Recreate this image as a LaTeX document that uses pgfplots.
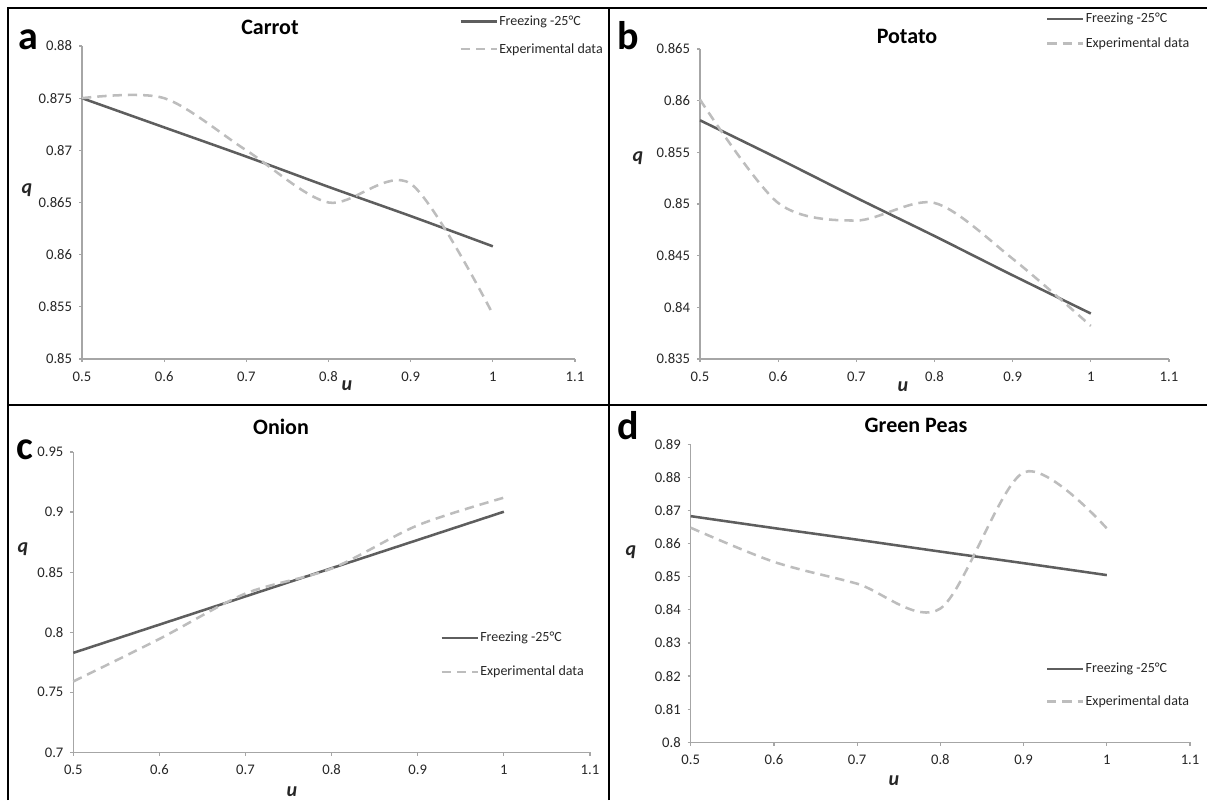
\documentclass[border=0pt]{standalone}
\usepackage{pgfplots}
\pgfplotsset{compat=1.18}
\usepackage{fontspec}
\setmainfont{Carlito}
\definecolor{solidc}{HTML}{5E5E5E}
\definecolor{dashc}{HTML}{BDBDBD}
\definecolor{axc}{HTML}{A6A6A6}
\definecolor{txtc}{HTML}{262626}
\pgfplotsset{
  panel/.style={
    scale only axis,
    axis x line=bottom, axis y line=left,
    axis line style={axc, line width=0.9pt, -},
    every tick/.style={axc, line width=0.9pt},
    tick align=outside, major tick length=2.4pt,
    xmin=0.5, xmax=1.1,
    xtick={0.5,0.6,0.7,0.8,0.9,1,1.1},
    /pgf/number format/assume math mode=true,
    /pgf/number format/precision=3,
    ticklabel style={font=\fontsize{11}{13}\selectfont, text=txtc},
    xticklabel style={yshift=-3.5pt},
    yticklabel style={xshift=-1.5pt},
    clip=false,
    legend cell align=left,
    legend style={draw=none, fill=none, inner sep=0pt,
      font=\fontsize{10.5}{12}\selectfont, text=txtc,
      nodes={inner sep=1pt},
      /tikz/every even column/.append style={column sep=1pt}},
    legend image code/.code={\draw[##1] (0pt,0pt) -- (27pt,0pt);},
  },
  sol/.style={solidc, line width=1.9pt, smooth},
  das/.style={dashc, line width=1.9pt, dash pattern=on 7pt off 4.5pt, smooth},
}
\pgfplotstableread{
u solid dashed
0.5 0.8750 0.8750
0.6 0.8722 0.8750
0.7 0.8694 0.8700
0.8 0.8665 0.8650
0.9 0.8637 0.8668
1.0 0.8608 0.8543
}\carrot
\pgfplotstableread{
u solid dashed
0.5 0.8581 0.8601
0.6 0.8544 0.8501
0.7 0.8506 0.8484
0.8 0.8469 0.8501
0.9 0.8431 0.8447
1.0 0.8394 0.8382
}\potato
\pgfplotstableread{
u solid dashed
0.5 0.7828 0.7590
0.6 0.8063 0.7944
0.7 0.8298 0.8322
0.8 0.8533 0.8530
0.9 0.8768 0.8890
1.0 0.9003 0.9120
}\onion
\pgfplotstableread{
u solid dashed
0.5 0.8683 0.8648
0.6 0.8647 0.8545
0.7 0.8612 0.8479
0.8 0.8576 0.8404
0.9 0.8541 0.8815
1.0 0.8505 0.8646
}\peas
\begin{document}
\begin{tikzpicture}[x=0.75pt,y=0.75pt]
\useasboundingbox (0,0) rectangle (1207,800);
% panel a
\begin{axis}[panel, at={(61.5pt,330.75pt)}, anchor=south west,
  width=369.75pt, height=234.75pt,
  ymin=0.85, ymax=0.88, ytick={0.85,0.855,0.86,0.865,0.87,0.875,0.88},
  legend style={at={(axis description cs:0.765,1.102)}, anchor=north west, row sep=10pt}]
\addplot[sol] table[x=u,y=solid]{\carrot};
\addlegendentry{Freezing -25°C}
\addplot[das] table[x=u,y=dashed]{\carrot};
\addlegendentry{Experimental data}
\end{axis}
% panel b
\begin{axis}[panel, at={(525pt,330.75pt)}, anchor=south west,
  width=351.75pt, height=232.5pt,
  ymin=0.835, ymax=0.865, ytick={0.835,0.84,0.845,0.85,0.855,0.86,0.865},
  legend style={at={(axis description cs:0.737,1.121)}, anchor=north west, row sep=7.5pt}]
\addplot[sol] table[x=u,y=solid]{\potato};
\addlegendentry{Freezing -25°C}
\addplot[das] table[x=u,y=dashed]{\potato};
\addlegendentry{Experimental data}
\end{axis}
% panel c
\begin{axis}[panel, at={(54.975pt,35.775pt)}, anchor=south west,
  width=387.5pt, height=225.2pt,
  ymin=0.7, ymax=0.95, ytick={0.7,0.75,0.8,0.85,0.9,0.95},
  legend style={at={(axis description cs:0.710,0.4056)}, anchor=north west, row sep=14.7pt}]
\addplot[sol] table[x=u,y=solid]{\onion};
\addlegendentry{Freezing -25°C}
\addplot[das] table[x=u,y=dashed]{\onion};
\addlegendentry{Experimental data}
\end{axis}
% panel d
\begin{axis}[panel, at={(518.025pt,43.275pt)}, anchor=south west,
  width=374.5pt, height=223.5pt,
  ymin=0.8, ymax=0.89, ytick={0.8,0.81,0.82,0.83,0.84,0.85,0.86,0.87,0.88,0.89},
  legend style={at={(axis description cs:0.7106,0.271)}, anchor=north west, row sep=13.5pt}]
\addplot[sol] table[x=u,y=solid]{\peas};
\addlegendentry{Freezing -25°C}
\addplot[das] table[x=u,y=dashed]{\peas};
\addlegendentry{Experimental data}
\end{axis}
% titles
\node[anchor=base, font=\fontsize{16.5}{18}\selectfont\bfseries, text=black] at (270,765) {Carrot};
\node[anchor=base, font=\fontsize{16.5}{18}\selectfont\bfseries, text=black] at (907,756.7) {Potato};
\node[anchor=base, font=\fontsize{16.5}{18}\selectfont\bfseries, text=black] at (281,365) {Onion};
\node[anchor=base, font=\fontsize{16.5}{18}\selectfont\bfseries, text=black] at (916,367.3) {Green Peas};
% panel letters
\node[anchor=base west, inner sep=0pt, font=\fontsize{30}{32}\selectfont\bfseries] at (18,750) {a};
\node[anchor=base west, inner sep=0pt, font=\fontsize{30}{32}\selectfont\bfseries] at (617,750.7) {b};
\node[anchor=base west, inner sep=0pt, font=\fontsize{30}{32}\selectfont\bfseries] at (16,340) {c};
\node[anchor=base west, inner sep=0pt, font=\fontsize{30}{32}\selectfont\bfseries] at (617,360) {d};
% axis labels
\tikzset{albl/.style={inner sep=0pt, font=\fontsize{15}{17}\selectfont\bfseries\itshape, text=txtc}}
\node[albl] at (27,610) {q};
\node[albl] at (347,414) {u};
\node[albl] at (638,642) {q};
\node[albl] at (903,413) {u};
\node[albl] at (23,251) {q};
\node[albl] at (292,8) {u};
\node[albl] at (631,248) {q};
\node[albl] at (894,19) {u};
% panel borders
\draw[black, line width=1.6pt] (8,0) -- (8,792) -- (1207,792);
\draw[black, line width=1.6pt] (609,0) -- (609,792);
\draw[black, line width=1.6pt] (8,395) -- (1207,395);
\end{tikzpicture}
\end{document}
